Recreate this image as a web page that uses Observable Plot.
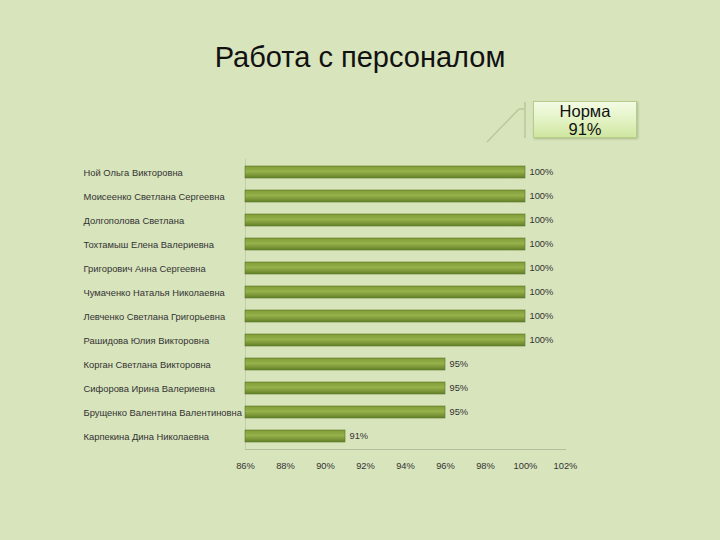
<!DOCTYPE html>
<html>
<head>
<meta charset="utf-8">
<script src="https://cdn.jsdelivr.net/npm/d3@7"></script>
<script src="https://cdn.jsdelivr.net/npm/@observablehq/plot@0.6"></script>
<style>
  html, body { margin: 0; padding: 0; background: #d8e4bc; }
  #wrap { position: relative; width: 720px; height: 540px; overflow: hidden; background: #d8e4bc; }
  #title { position: absolute; left: 0; top: 0; width: 720px; height: 90px; text-align: center;
           font-family: "Liberation Sans", Arial, sans-serif; font-size: 29px; color: #111;
           line-height: 30px; padding-top: 42px; box-sizing: border-box; }
  #chart { position: absolute; left: 0; top: 90px; }
  #callout { position: absolute; left: 533px; top: 101px; width: 104px; height: 37px;
             box-sizing: border-box; border: 1px solid #b5cf8a;
             background: linear-gradient(to bottom, #f3fbe4 0%, #e2f2c2 55%, #cfe6a0 100%);
             font-family: "Liberation Sans", Arial, sans-serif; font-size: 16.5px; line-height: 18px;
             color: #111; text-align: center; padding-top: 0px;
             box-shadow: 1px 1px 2px rgba(90,110,60,0.35); }
  #callout div { height: 18px; line-height: 18px; }
  #leader { position: absolute; left: 0; top: 0; }
</style>
</head>
<body>
<div id="wrap">
  <div id="title">Работа с персоналом</div>
  <div id="chart"></div>
  <svg id="leader" width="720" height="540">
    <polyline points="487,142 519,109 524,109" fill="none" stroke="#b9c99a" stroke-width="1.5"/>
    <line x1="525" y1="102" x2="525" y2="138" stroke="#b9c99a" stroke-width="1.5"/>
  </svg>
  <div id="callout"><div>Норма</div><div>91%</div></div>
</div>
<script>
const names = [
  "Ной Ольга Викторовна",
  "Моисеенко Светлана Сергеевна",
  "Долгополова Светлана",
  "Тохтамыш Елена Валериевна",
  "Григорович Анна Сергеевна",
  "Чумаченко Наталья Николаевна",
  "Левченко Светлана Григорьевна",
  "Рашидова Юлия Викторовна",
  "Корган Светлана Викторовна",
  "Сифорова Ирина Валериевна",
  "Брущенко Валентина Валентиновна",
  "Карпекина Дина Николаевна"
];
const values = [100, 100, 100, 100, 100, 100, 100, 100, 96, 96, 96, 91];
const valueLabels = ["100%", "100%", "100%", "100%", "100%", "100%", "100%", "100%", "95%", "95%", "95%", "91%"];
const xTicks = [86, 88, 90, 92, 94, 96, 98, 100, 102];

const data = names.map((n, i) => ({name: n, value: values[i], label: valueLabels[i]}));

const chart = Plot.plot({
  width: 720,
  height: 450,
  marginLeft: 245,
  marginRight: 155,
  marginTop: 69,
  marginBottom: 91,
  style: {background: "transparent", fontFamily: "\"Liberation Sans\", Arial, sans-serif", fontSize: "9px", color: "#333"},
  x: {domain: [86, 102], ticks: xTicks, tickFormat: d => d + "%"},
  y: {domain: names, paddingInner: 0.5, paddingOuter: 0.25},
  marks: [
    Plot.frame({anchor: "bottom", stroke: "#b3bf9c", strokeWidth: 1}),
    Plot.ruleX([86], {stroke: "#c2cdaa", strokeWidth: 1}),
    Plot.barX(data, {x1: 86, x2: "value", y: "name", fill: "url(#barGrad)", stroke: "#5d7628", strokeWidth: 0.6}),
    Plot.text(data, {x: "value", y: "name", text: "label", textAnchor: "start", dx: 4, fill: "#333", fontSize: 9.3}),
    Plot.axisX({ticks: xTicks, tickSize: 0, tickPadding: 13, tickFormat: d => d + "%", fill: "#333", fontSize: 9.3, label: null}),
    Plot.axisY({tickSize: 0, tickPadding: 0, textAnchor: "start", dx: -162, fill: "#333", fontSize: 9.4, label: null})
  ]
});

const ns = "http://www.w3.org/2000/svg";
const defs = document.createElementNS(ns, "defs");
defs.innerHTML = `<linearGradient id="barGrad" x1="0" y1="0" x2="0" y2="1">
  <stop offset="0%" stop-color="#7d9a36"/>
  <stop offset="45%" stop-color="#97b34c"/>
  <stop offset="100%" stop-color="#637f28"/>
</linearGradient>`;
chart.insertBefore(defs, chart.firstChild);
document.getElementById("chart").appendChild(chart);
</script>
</body>
</html>
